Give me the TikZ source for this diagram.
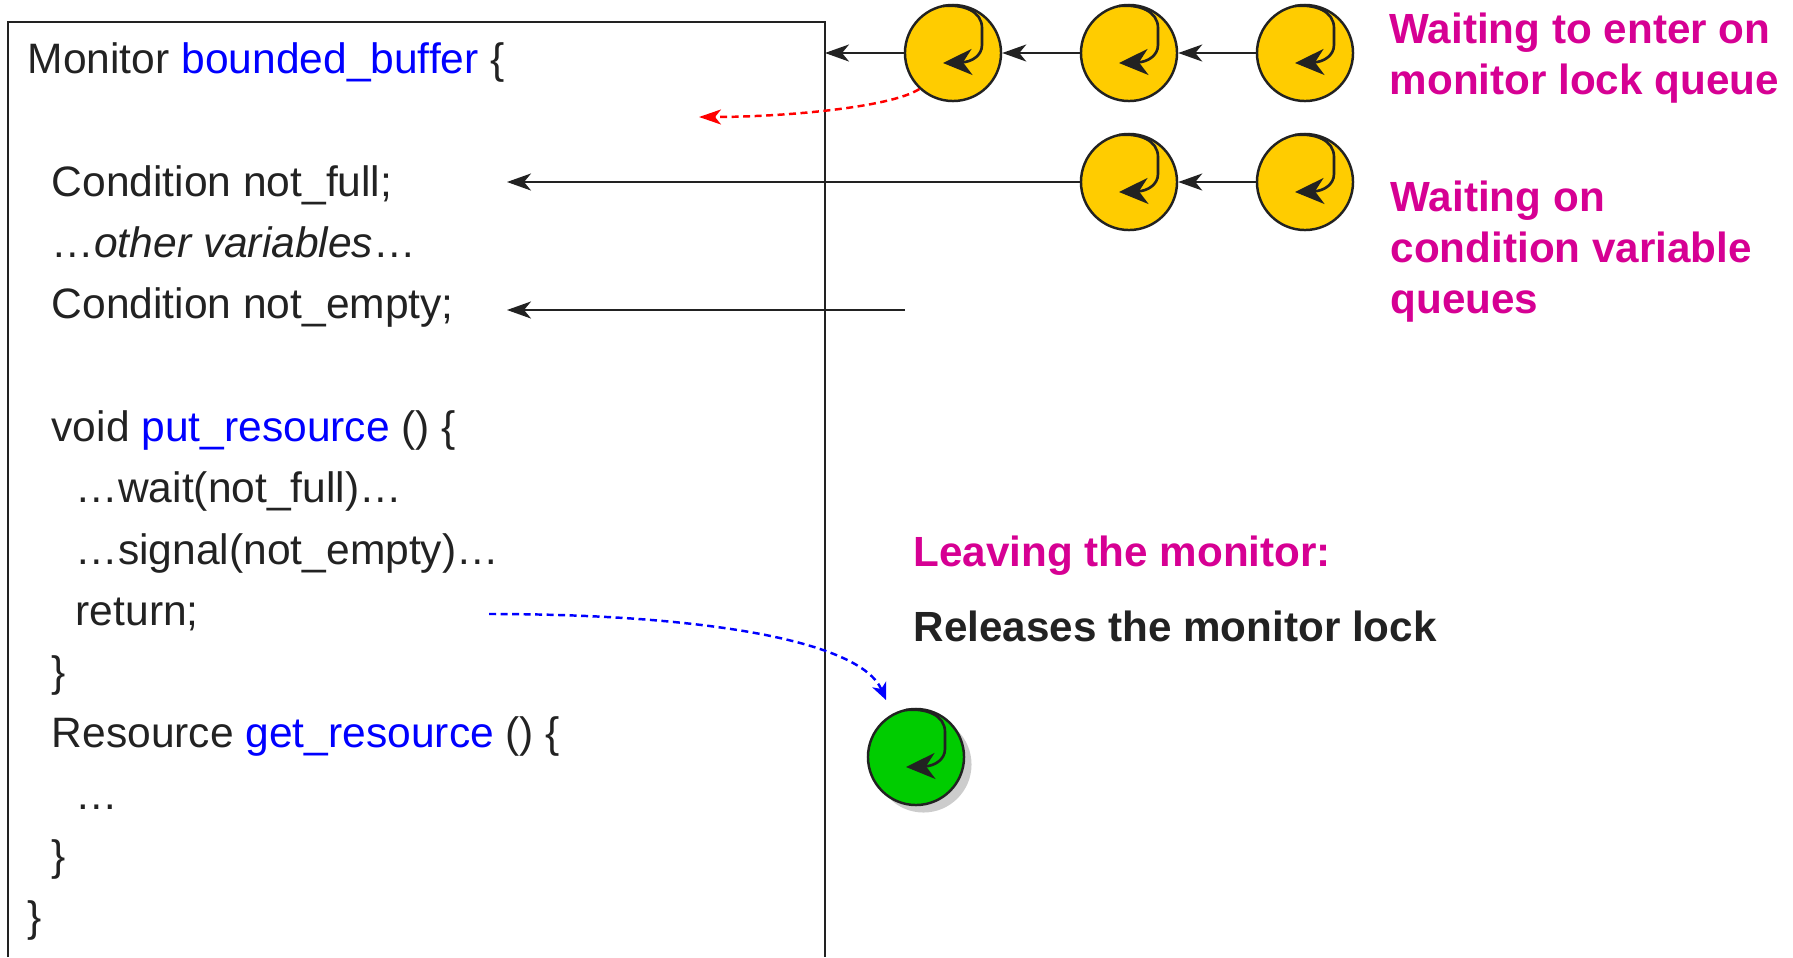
\documentclass[tikz,border=0pt]{standalone}
\usepackage{fontspec}
\setmainfont{Liberation Sans}
\usepackage{xcolor}
\usetikzlibrary{arrows.meta,shadows}

\definecolor{codetext}{HTML}{222222}
\definecolor{codeblue}{HTML}{0000FF}
\definecolor{qyellow}{HTML}{FFCC00}
\definecolor{leavegreen}{HTML}{00CC00}
\definecolor{notemag}{HTML}{D60093}

\begin{document}
\begin{tikzpicture}[x=0.01cm, y=-0.01cm,
    code/.style={anchor=base west, text=codetext, inner sep=0pt, font=\fontsize{12.1}{14}\selectfont},
    note/.style={anchor=base west, inner sep=0pt, align=left, font=\fontsize{12}{14.5}\selectfont\bfseries},
    thread/.style={circle, draw=codetext, line width=0.7pt, minimum size=0.96cm, inner sep=0pt, fill=qyellow},
    qarrow/.style={draw=codetext, line width=0.7pt, -{Stealth[length=0.24cm, width=0.17cm, inset=0.07cm]}},
    hook/.style={draw=codetext, line width=0.75pt, -{Stealth[length=0.29cm, width=0.26cm, inset=0.09cm]}},
    dashline/.style={line width=0.7pt, dash pattern=on 0.07cm off 0.045cm}
]

    \useasboundingbox (0,0) rectangle (1793,957);

    % The monitor
    \draw[codetext, line width=0.7pt] (8,957) |- (825,22) -- (825,957);

    \node[code] (l0) at (27,73) {Monitor \textcolor{codeblue}{bounded\_buffer} \{};
    \node[code] (l2) at (51,196) {Condition not\_full;};
    \node[code] (l3) at (51,257) {…\textit{other variables}…};
    \node[code] (l4) at (51,318) {Condition not\_empty;};
    \node[code] (l6) at (51,441) {void \textcolor{codeblue}{put\_resource} () \{};
    \node[code] (l7) at (75,502) {…wait(not\_full)…};
    \node[code] (l8) at (75,564) {…signal(not\_empty)…};
    \node[code] (l9) at (75,625) {return;};
    \node[code] (l10) at (51,686) {\}};
    \node[code] (l11) at (51,747) {Resource \textcolor{codeblue}{get\_resource} () \{};
    \node[code] (l12) at (75,809) {…};
    \node[code] (l13) at (51,870) {\}};
    \node[code] (l14) at (27,931) {\}};

    % Queues
    \node[thread] (e1) at (953,53) {};
    \node[thread] (e2) at (1129,53) {};
    \node[thread] (e3) at (1305,53) {};

    \node[thread] (c1) at (1129,182) {};
    \node[thread] (c2) at (1305,182) {};

    \node[thread, fill=leavegreen,
        drop shadow={shadow xshift=0.075cm, shadow yshift=-0.075cm, fill=black!20, opacity=1}] (lv) at (916,757) {};

    \foreach \q in {e1,e2,e3,c1,c2,lv} {
        \draw[hook] ([shift={(-10,-47)}]\q.center)
            .. controls ([shift={(10,-49)}]\q.center) and ([shift={(29,-42)}]\q.center) .. ([shift={(29,-25)}]\q.center)
            -- ([shift={(29,-8)}]\q.center)
            .. controls ([shift={(29,3)}]\q.center) and ([shift={(18,9)}]\q.center) .. ([shift={(-10,10)}]\q.center);
    }

    \coordinate (lockin) at (825,53);
    \coordinate (nfin) at (507,182);
    \coordinate (ne0) at (905,310);
    \coordinate (nein) at (507,310);
    \coordinate (redtip) at (699,117);
    \coordinate (retout) at (489,614);
    \coordinate (lvin) at (886,700);

    \draw[qarrow] (e3) -- (e2);
    \draw[qarrow] (e2) -- (e1);
    \draw[qarrow] (e1) -- (lockin);

    \draw[qarrow] (c2) -- (c1);
    \draw[qarrow] (c1) -- (nfin);
    \draw[qarrow] (ne0) -- (nein);

    % Entering and leaving
    \draw[dashline, red, -{Stealth[length=0.22cm, width=0.15cm, inset=0.06cm]}]
        (e1.-133) .. controls (890,108) and (780,117) .. (redtip);
    \draw[dashline, codeblue, -{Stealth[length=0.17cm, width=0.15cm, inset=0.05cm]}]
        (retout) .. controls (700,614) and (860,640) .. (lvin);

    % Labels (a multi-line node sits on its last line)
    \node[note, text=notemag] (wl) at (1389,94) {Waiting to enter on\\monitor lock queue};
    \node[note, text=notemag] (wc) at (1390,313) {Waiting on\\condition variable\\queues};
    \node[note, text=notemag] (lvl) at (913,566) {Leaving the monitor:};
    \node[note, text=codetext] (rel) at (913,641) {Releases the monitor lock};

\end{tikzpicture}
\end{document}
